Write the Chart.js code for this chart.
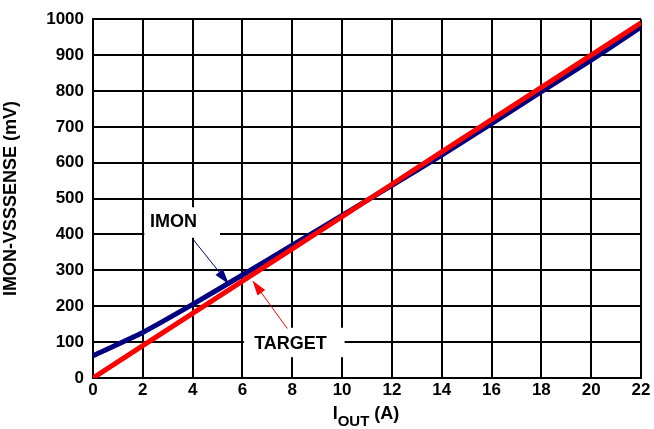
<!DOCTYPE html>
<html>
<head>
<meta charset="utf-8">
<script src="https://cdn.jsdelivr.net/npm/chart.js@4"></script>
<style>
  html, body { margin: 0; padding: 0; background: #fff; }
  #wrap { width: 654px; height: 429px; }
</style>
</head>
<body>
<div id="wrap"><canvas id="grafico"></canvas></div>
<script>
// valores
const corriente = [0, 2, 4, 6, 8, 10, 12, 14, 16, 18, 20, 22];
const imon = [62, 127, 205, 287, 370, 453, 537, 621, 709, 798, 886, 978];
const target = [0, 90, 180, 270, 360, 450, 540, 630, 720, 810, 900, 990];

// etiquetas: texto, posicion del texto, flecha desde -> hasta, caja blanca (en unidades de datos)
const etiquetas = [
    { texto: 'IMON', x: 3.23, y: 435, desde: [4.0, 388], hasta: [5.45, 262], color: '#000080', caja: [2.06, 5.1, 391, 476] },
    { texto: 'TARGET', x: 7.93, y: 96, desde: [7.8, 138], hasta: [6.4, 272], color: '#ff0000', caja: [6.06, 10.1, 58, 140] }
];

const fuente = 'Arial, "Liberation Sans", sans-serif';

const anotaciones = {
    id: 'anotaciones',
    beforeDatasetsDraw(chart) {
        const ctx = chart.ctx;
        const sx = chart.scales.x, sy = chart.scales.y;
        ctx.save();
        ctx.fillStyle = '#fff';
        etiquetas.forEach(e => {
            const x1 = sx.getPixelForValue(e.caja[0]), x2 = sx.getPixelForValue(e.caja[1]);
            const y1 = sy.getPixelForValue(e.caja[3]), y2 = sy.getPixelForValue(e.caja[2]);
            ctx.fillRect(x1, y1, x2 - x1, y2 - y1);
        });
        ctx.restore();
    },
    afterDatasetsDraw(chart) {
        const ctx = chart.ctx;
        const sx = chart.scales.x, sy = chart.scales.y;
        ctx.save();
        etiquetas.forEach(e => {
            ctx.fillStyle = '#000';
            ctx.font = 'bold 18px ' + fuente;
            ctx.textAlign = 'center';
            ctx.textBaseline = 'middle';
            ctx.fillText(e.texto, sx.getPixelForValue(e.x), sy.getPixelForValue(e.y));

            const ax = sx.getPixelForValue(e.desde[0]), ay = sy.getPixelForValue(e.desde[1]);
            const bx = sx.getPixelForValue(e.hasta[0]), by = sy.getPixelForValue(e.hasta[1]);
            const ang = Math.atan2(by - ay, bx - ax);
            ctx.strokeStyle = e.color;
            ctx.fillStyle = e.color;
            ctx.lineWidth = 1;
            ctx.beginPath();
            ctx.moveTo(ax, ay);
            ctx.lineTo(bx - 10 * Math.cos(ang), by - 10 * Math.sin(ang));
            ctx.stroke();
            ctx.beginPath();
            ctx.moveTo(bx, by);
            ctx.lineTo(bx - 16 * Math.cos(ang - 0.3), by - 16 * Math.sin(ang - 0.3));
            ctx.lineTo(bx - 16 * Math.cos(ang + 0.3), by - 16 * Math.sin(ang + 0.3));
            ctx.closePath();
            ctx.fill();
        });

        // titulo eje x con subindice
        const cx = 366;
        const ty = 419;
        ctx.fillStyle = '#000';
        ctx.textBaseline = 'alphabetic';
        ctx.textAlign = 'left';
        ctx.font = 'bold 18px ' + fuente;
        const wI = ctx.measureText('I').width;
        const wA = ctx.measureText(' (A)').width;
        ctx.font = 'bold 15px ' + fuente;
        const wOut = ctx.measureText('OUT').width;
        let px = cx - (wI + wOut + wA) / 2;
        ctx.font = 'bold 18px ' + fuente;
        ctx.fillText('I', px, ty);
        px += wI;
        ctx.font = 'bold 15px ' + fuente;
        ctx.fillText('OUT', px, ty + 7);
        px += wOut;
        ctx.font = 'bold 18px ' + fuente;
        ctx.fillText(' (A)', px, ty);
        ctx.restore();
    }
};

new Chart(document.getElementById('grafico'), {
    type: 'line',
    data: {
        datasets: [{
            label: 'TARGET',
            data: corriente.map((c, i) => ({ x: c, y: target[i] })),
            borderColor: '#ff0000',
            borderWidth: 5,
            pointRadius: 0,
            tension: 0
        }, {
            label: 'IMON',
            data: corriente.map((c, i) => ({ x: c, y: imon[i] })),
            borderColor: '#000080',
            borderWidth: 5,
            pointRadius: 0,
            tension: 0.1
        }]
    },
    options: {
        responsive: true,
        maintainAspectRatio: false,
        animation: false,
        layout: { padding: { top: 15, right: 13, left: 0, bottom: 0 } },
        plugins: {
            legend: { display: false },
            tooltip: { enabled: false }
        },
        scales: {
            x: {
                type: 'linear',
                min: 0,
                max: 22,
                ticks: {
                    stepSize: 2,
                    color: '#000',
                    padding: 2,
                    maxRotation: 0,
                    font: { family: fuente, size: 17, weight: 'bold' }
                },
                grid: { color: '#000', lineWidth: 2, drawTicks: false },
                border: { color: '#000', width: 2 },
                afterFit: s => { s.height = 51; }
            },
            y: {
                min: 0,
                max: 1000,
                ticks: {
                    stepSize: 100,
                    color: '#000',
                    padding: 9,
                    callback: v => String(v),
                    font: { family: fuente, size: 17, weight: 'bold' }
                },
                grid: { color: '#000', lineWidth: 2, drawTicks: false },
                border: { color: '#000', width: 2 },
                title: {
                    display: true,
                    text: 'IMON-VSSSENSE (mV)',
                    color: '#000',
                    padding: { top: 0, bottom: 6 },
                    font: { family: fuente, size: 18, weight: 'bold' }
                },
                afterFit: s => { s.width = 93; }
            }
        }
    },
    plugins: [anotaciones]
});
</script>
</body>
</html>
